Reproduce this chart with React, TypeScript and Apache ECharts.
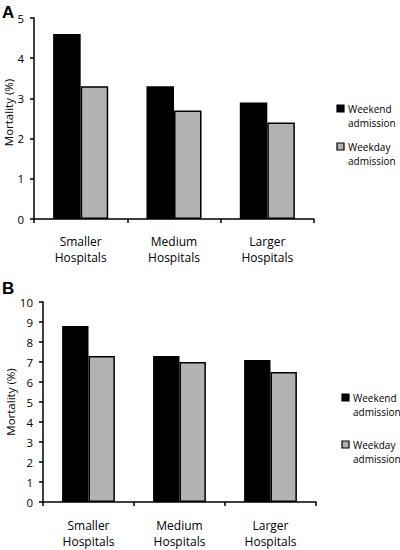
import React, { useEffect, useRef } from "react";
import * as echarts from "echarts";

const categories = ["Smaller\nHospitals", "Medium\nHospitals", "Larger\nHospitals"];
const seriesNames = ["Weekend admission", "Weekday admission"];
const weekendA = [4.6, 3.3, 2.9];
const weekdayA = [3.3, 2.7, 2.4];
const weekendB = [8.8, 7.3, 7.1];
const weekdayB = [7.3, 7.0, 6.5];
const yMaxA = 5;
const yMaxB = 10;
const yTitle = "Mortality (%)";
const panelLabels = ["A", "B"];

const FONT = "Open Sans";
const BLACK = "#000000";
const GRAY = "#b2b2b2";

export default function App() {
  const ref = useRef<HTMLDivElement>(null);
  useEffect(() => {
    if (!ref.current) return;
    const chart = echarts.init(ref.current, null, { renderer: "svg" });

    const xAxisBase = (gridIndex: number, margin: number) => ({
      type: "category",
      gridIndex,
      data: categories,
      axisLine: { lineStyle: { color: BLACK, width: 1.5 } },
      axisTick: { show: true, length: 4, alignWithLabel: false, lineStyle: { color: BLACK, width: 1.5 } },
      axisLabel: { color: BLACK, fontFamily: FONT, fontSize: 12, lineHeight: 16, margin, interval: 0 },
    });
    const yAxisBase = (gridIndex: number, max: number, nameGap: number, shiftUp: number) => ({
      type: "value",
      gridIndex,
      min: 0,
      max,
      interval: 1,
      name: yTitle,
      nameLocation: "middle",
      nameRotate: 90,
      nameGap,
      nameMoveOverlap: false,
      nameTextStyle: { color: BLACK, fontFamily: FONT, fontSize: 11.5, padding: [0, 0, 0, shiftUp] },
      splitLine: { show: false },
      axisLine: { show: true, lineStyle: { color: BLACK, width: 1.5 } },
      axisTick: { show: true, length: 4, lineStyle: { color: BLACK, width: 1.5 } },
      axisLabel: { color: BLACK, fontFamily: FONT, fontSize: 11.5, margin: 10 },
    });

    const barStyle = (color: string) => ({
      color,
      borderColor: BLACK,
      borderWidth: 1.5,
    });

    const legendGraphic = (x: number, y1: number, y2: number) => {
      const items: any[] = [];
      [
        { y: y1, color: BLACK, name: seriesNames[0] },
        { y: y2, color: GRAY, name: seriesNames[1] },
      ].forEach((it) => {
        items.push({
          type: "rect",
          shape: { x, y: it.y, width: 7, height: 7 },
          style: { fill: it.color, stroke: BLACK, lineWidth: 1.2 },
        });
        const parts = it.name.split(" ");
        items.push({
          type: "text",
          x: x + 11,
          y: it.y - 3,
          style: {
            text: parts[0] + "\n" + parts[1],
            fontFamily: FONT,
            fontSize: 10,
            lineHeight: 14,
            fill: BLACK,
          },
        });
      });
      return items;
    };

    chart.setOption({
      animation: false,
      backgroundColor: "#ffffff",
      textStyle: { fontFamily: FONT },
      grid: [
        { left: 34, top: 18, width: 280, height: 201, containLabel: false, outerBoundsMode: "none" },
        { left: 43, top: 302, width: 273, height: 200, containLabel: false, outerBoundsMode: "none" },
      ],
      xAxis: [xAxisBase(0, 14), xAxisBase(1, 15)],
      yAxis: [yAxisBase(0, yMaxA, 20, 12), yAxisBase(1, yMaxB, 27, 0)],
      series: [
        { name: seriesNames[0], type: "bar", xAxisIndex: 0, yAxisIndex: 0, data: weekendA, itemStyle: barStyle(BLACK), barGap: "0%", barCategoryGap: "41%" },
        { name: seriesNames[1], type: "bar", xAxisIndex: 0, yAxisIndex: 0, data: weekdayA, itemStyle: barStyle(GRAY), barGap: "0%", barCategoryGap: "41%" },
        { name: seriesNames[0], type: "bar", xAxisIndex: 1, yAxisIndex: 1, data: weekendB, itemStyle: barStyle(BLACK), barGap: "0%", barCategoryGap: "42%" },
        { name: seriesNames[1], type: "bar", xAxisIndex: 1, yAxisIndex: 1, data: weekdayB, itemStyle: barStyle(GRAY), barGap: "0%", barCategoryGap: "42%" },
      ],
      graphic: [
        {
          type: "text",
          x: 2,
          y: 4,
          style: { text: panelLabels[0], fontFamily: "Liberation Sans", fontWeight: "bold", fontSize: 17, fill: BLACK },
        },
        {
          type: "text",
          x: 2,
          y: 280,
          style: { text: panelLabels[1], fontFamily: "Liberation Sans", fontWeight: "bold", fontSize: 17, fill: BLACK },
        },
        ...legendGraphic(337, 105, 143),
        ...legendGraphic(342, 394, 441),
      ],
    });
    return () => chart.dispose();
  }, []);
  return (
    <div
      ref={ref}
      style={{ position: "absolute", left: 0, top: 0, width: 400, height: 550, background: "#fff" }}
    />
  );
}
